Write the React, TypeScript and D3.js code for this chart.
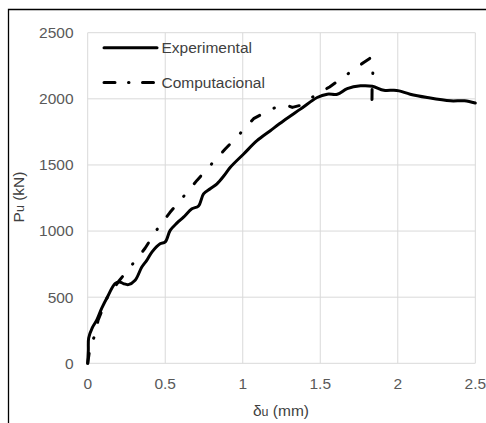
import React, { useRef, useEffect } from 'react';
import * as d3 from 'd3';

// Experimental curve (displacement mm, load kN)
const expDelta = [0, 0.004, 0.006, 0.03, 0.058, 0.09, 0.133, 0.176, 0.205, 0.23, 0.262, 0.306, 0.349, 0.381, 0.414, 0.467, 0.5, 0.532, 0.575, 0.618, 0.672, 0.715, 0.747, 0.79, 0.834, 0.88, 0.92, 1.006, 1.092, 1.178, 1.264, 1.372, 1.48, 1.545, 1.61, 1.674, 1.76, 1.836, 1.91, 1.975, 2.008, 2.08, 2.19, 2.34, 2.43, 2.5];
const expLoad = [0, 100, 190, 270, 326, 415, 515, 603, 615, 603, 595, 628, 728, 779, 841, 904, 918, 1005, 1060, 1105, 1168, 1190, 1281, 1320, 1357, 1420, 1482, 1583, 1683, 1759, 1834, 1922, 2010, 2035, 2035, 2077, 2098, 2095, 2065, 2065, 2060, 2035, 2010, 1985, 1985, 1968];

// Computational curve
const compDelta = [0, 0.01, 0.02, 0.043, 0.067, 0.127, 0.2, 0.29, 0.37, 0.446, 0.53, 0.618, 0.706, 0.795, 0.887, 0.98, 1.07, 1.193, 1.28, 1.32, 1.37, 1.445, 1.56, 1.68, 1.78, 1.82, 1.845, 1.835, 1.833];
const compLoad = [0, 80, 150, 200, 326, 500, 620, 751, 870, 1010, 1140, 1261, 1385, 1502, 1620, 1734, 1850, 1927, 1955, 1935, 1950, 2010, 2090, 2190, 2275, 2306, 2260, 2150, 1930];

const xTicks = [0, 0.5, 1, 1.5, 2, 2.5];
const yTicks = [0, 500, 1000, 1500, 2000, 2500];
const seriesNames = ['Experimental', 'Computacional'];

const App = () => {
  const chartRef = useRef(null);

  useEffect(() => {
    const width = 486;
    const height = 423;
    const font = '"Liberation Sans", Arial, sans-serif';
    const dashDot = '10,16,0.5,16';

    d3.select(chartRef.current).select('svg').remove();

    const svg = d3.select(chartRef.current)
      .append('svg')
      .attr('width', width)
      .attr('height', height)
      .style('display', 'block')
      .style('background', '#fff');

    // outer chart border (cropped at right/bottom)
    svg.append('path')
      .attr('d', `M8.5,${height}V9.5H${width}`)
      .attr('fill', 'none')
      .attr('stroke', '#000')
      .attr('stroke-width', 1.3);

    const x = d3.scaleLinear().domain([0, 2.5]).range([87.7, 475.3]);
    const y = d3.scaleLinear().domain([0, 2500]).range([363.3, 32.7]);

    // gridlines
    svg.append('g').selectAll('line')
      .data(xTicks).enter().append('line')
      .attr('x1', d => x(d)).attr('x2', d => x(d))
      .attr('y1', y(0)).attr('y2', y(2500))
      .attr('stroke', '#d9d9d9').attr('stroke-width', 1);
    svg.append('g').selectAll('line')
      .data(yTicks).enter().append('line')
      .attr('x1', x(0)).attr('x2', x(2.5))
      .attr('y1', d => y(d)).attr('y2', d => y(d))
      .attr('stroke', '#d9d9d9').attr('stroke-width', 1);

    // tick labels
    svg.append('g').selectAll('text')
      .data(xTicks).enter().append('text')
      .attr('x', d => x(d)).attr('y', 388.5)
      .attr('text-anchor', 'middle')
      .attr('font-family', font).attr('font-size', 15.5)
      .attr('fill', '#595959')
      .text(d => String(d));
    svg.append('g').selectAll('text')
      .data(yTicks).enter().append('text')
      .attr('x', 73.5).attr('y', d => y(d))
      .attr('dy', '0.35em')
      .attr('text-anchor', 'end')
      .attr('font-family', font).attr('font-size', 15.5)
      .attr('fill', '#595959')
      .text(d => String(d));

    // axis titles
    const xt = svg.append('text')
      .attr('x', 281).attr('y', 415.5)
      .attr('text-anchor', 'middle')
      .attr('font-family', font).attr('font-size', 15.5)
      .attr('fill', '#404040');
    xt.append('tspan').text('δ');
    xt.append('tspan').attr('font-size', 12.5).text('u');
    xt.append('tspan').text(' (mm)');

    const yt = svg.append('text')
      .attr('transform', 'translate(23.5,197) rotate(-90)')
      .attr('text-anchor', 'middle')
      .attr('font-family', font).attr('font-size', 15.5)
      .attr('fill', '#404040');
    yt.append('tspan').text('P');
    yt.append('tspan').attr('font-size', 12.5).text('u');
    yt.append('tspan').text(' (kN)');

    const line = d3.line<number[]>()
      .x(d => x(d[0]))
      .y(d => y(d[1]));

    const expData = expDelta.map((d, i) => [d, expLoad[i]]);
    const compData = compDelta.map((d, i) => [d, compLoad[i]]);

    svg.append('path')
      .attr('d', line.curve(d3.curveCatmullRom)(expData))
      .attr('fill', 'none')
      .attr('stroke', '#000')
      .attr('stroke-width', 3)
      .attr('stroke-linejoin', 'round')
      .attr('stroke-linecap', 'round');

    svg.append('path')
      .attr('d', line.curve(d3.curveLinear)(compData))
      .attr('fill', 'none')
      .attr('stroke', '#000')
      .attr('stroke-width', 3)
      .attr('stroke-dasharray', dashDot)
      .attr('stroke-linejoin', 'round')
      .attr('stroke-linecap', 'round');

    // legend
    const legend = svg.append('g');
    const legendY = [47.7, 82.5];
    seriesNames.forEach((name, i) => {
      legend.append('line')
        .attr('x1', 104).attr('x2', 157)
        .attr('y1', legendY[i]).attr('y2', legendY[i])
        .attr('stroke', '#000')
        .attr('stroke-width', 3)
        .attr('stroke-linecap', 'round')
        .attr('stroke-dasharray', i === 0 ? null : '11,13.5,0.5,13.5');
      legend.append('text')
        .attr('x', 161.5).attr('y', legendY[i])
        .attr('dy', '0.35em')
        .attr('font-family', font).attr('font-size', 15.5)
        .attr('fill', '#404040')
        .text(name);
    });
  }, []);

  return (
    <div>
      <style>{'body{margin:0}'}</style>
      <div ref={chartRef}></div>
    </div>
  );
};

export default App;
